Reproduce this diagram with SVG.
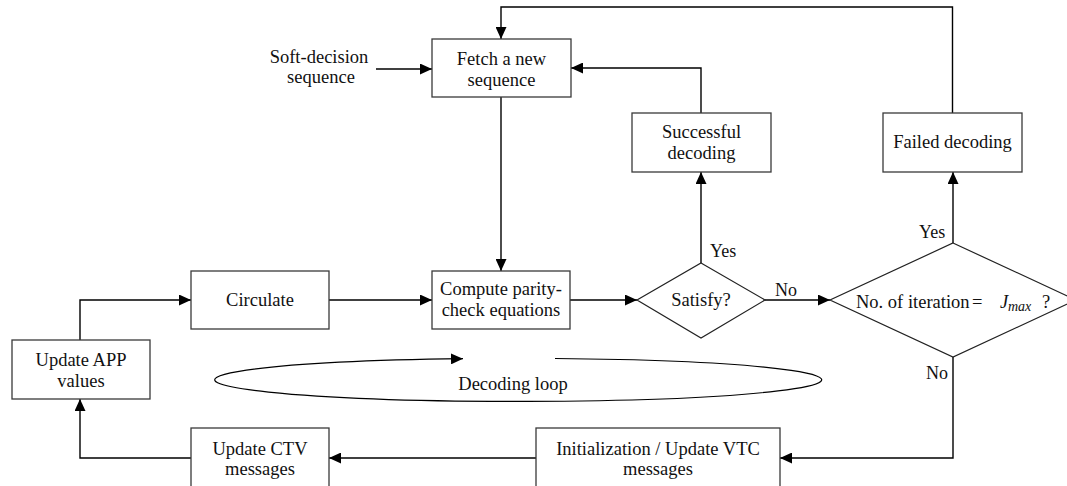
<svg xmlns="http://www.w3.org/2000/svg" width="1067" height="486" viewBox="0 0 1067 486">
<style>
.box{fill:#fff;stroke:#3a3a3a;stroke-width:1.3}
.dia{fill:#fff;stroke:#222;stroke-width:1.2}
.ln{fill:none;stroke:#000;stroke-width:1.4}
text{font-family:"Liberation Serif","Times New Roman",serif;font-size:18.5px;fill:#111;text-anchor:middle}
.lbl{font-size:18px;text-anchor:start}
</style>
<defs>
<marker id="ah" markerUnits="userSpaceOnUse" markerWidth="12" markerHeight="11" refX="12" refY="5.5" orient="auto">
<path d="M0,0 L12,5.5 L0,11 z" fill="#000"/>
</marker>
</defs>
<rect width="1067" height="486" fill="#fff"/>
<g id="connectors">
<path class="ln" d="M952.5,113 V7 H501 V39" marker-end="url(#ah)"/>
<path class="ln" d="M376,69 H432" marker-end="url(#ah)"/>
<path class="ln" d="M701,113 V68 H571" marker-end="url(#ah)"/>
<path class="ln" d="M501,97 V271" marker-end="url(#ah)"/>
<path class="ln" d="M329,300 H432" marker-end="url(#ah)"/>
<path class="ln" d="M570,300 H637" marker-end="url(#ah)"/>
<path class="ln" d="M701,263 V172" marker-end="url(#ah)"/>
<path class="ln" d="M765,300 H830" marker-end="url(#ah)"/>
<path class="ln" d="M953,243 V172" marker-end="url(#ah)"/>
<path class="ln" d="M953,357 V458 H780" marker-end="url(#ah)"/>
<path class="ln" d="M536,458 H329" marker-end="url(#ah)"/>
<path class="ln" d="M191,458 H80 V399" marker-end="url(#ah)"/>
<path class="ln" d="M80,340 V300 H191" marker-end="url(#ah)"/>
<path class="ln" style="stroke-width:1.2" d="M555,358.5 A303.5 21.5 0 1 1 463,358.7" marker-end="url(#ah)"/>
<text class="lbl" x="710" y="257">Yes</text>
<text class="lbl" x="775" y="296">No</text>
<text class="lbl" x="919" y="238">Yes</text>
<text class="lbl" x="926" y="379">No</text>
<text x="513" y="390">Decoding loop</text>
</g>
<g id="soft-decision">
<text x="319" y="63">Soft-decision</text>
<text x="321" y="83">sequence</text>
</g>
<g id="fetch">
<rect class="box" x="432" y="39" width="139" height="58"/>
<text x="501.5" y="65">Fetch a new</text>
<text x="501.5" y="86">sequence</text>
</g>
<g id="successful">
<rect class="box" x="632" y="113" width="139" height="59"/>
<text x="701.5" y="138">Successful</text>
<text x="701.5" y="159">decoding</text>
</g>
<g id="failed">
<rect class="box" x="883" y="113" width="139" height="59"/>
<text x="952.5" y="148">Failed decoding</text>
</g>
<g id="circulate">
<rect class="box" x="191" y="271" width="138" height="58"/>
<text x="260" y="306">Circulate</text>
</g>
<g id="update-app">
<rect class="box" x="12" y="340" width="138" height="59"/>
<text x="81" y="366">Update APP</text>
<text x="81" y="387">values</text>
</g>
<g id="compute">
<rect class="box" x="432" y="271" width="138" height="58"/>
<text x="501" y="295">Compute parity-</text>
<text x="501" y="316">check equations</text>
</g>
<g id="satisfy">
<polygon class="dia" points="701,263 765,300 701,338 637,300"/>
<text x="701" y="306">Satisfy?</text>
</g>
<g id="iteration">
<polygon class="dia" points="953,243 1076,300 953,357 830,300"/>
<text style="text-anchor:start"><tspan x="856" y="308">No. of iteration</tspan><tspan x="972" y="308">=</tspan><tspan x="1000" y="308" font-style="italic">J</tspan><tspan x="1008" y="311" font-style="italic" font-size="14">max</tspan><tspan x="1042" y="308">?</tspan></text>
</g>
<g id="init">
<rect class="box" x="536" y="428" width="244" height="60"/>
<text x="658" y="455">Initialization / Update VTC</text>
<text x="658" y="475">messages</text>
</g>
<g id="update-ctv">
<rect class="box" x="191" y="428" width="138" height="60"/>
<text x="260" y="455">Update CTV</text>
<text x="260" y="475">messages</text>
</g>
</svg>
